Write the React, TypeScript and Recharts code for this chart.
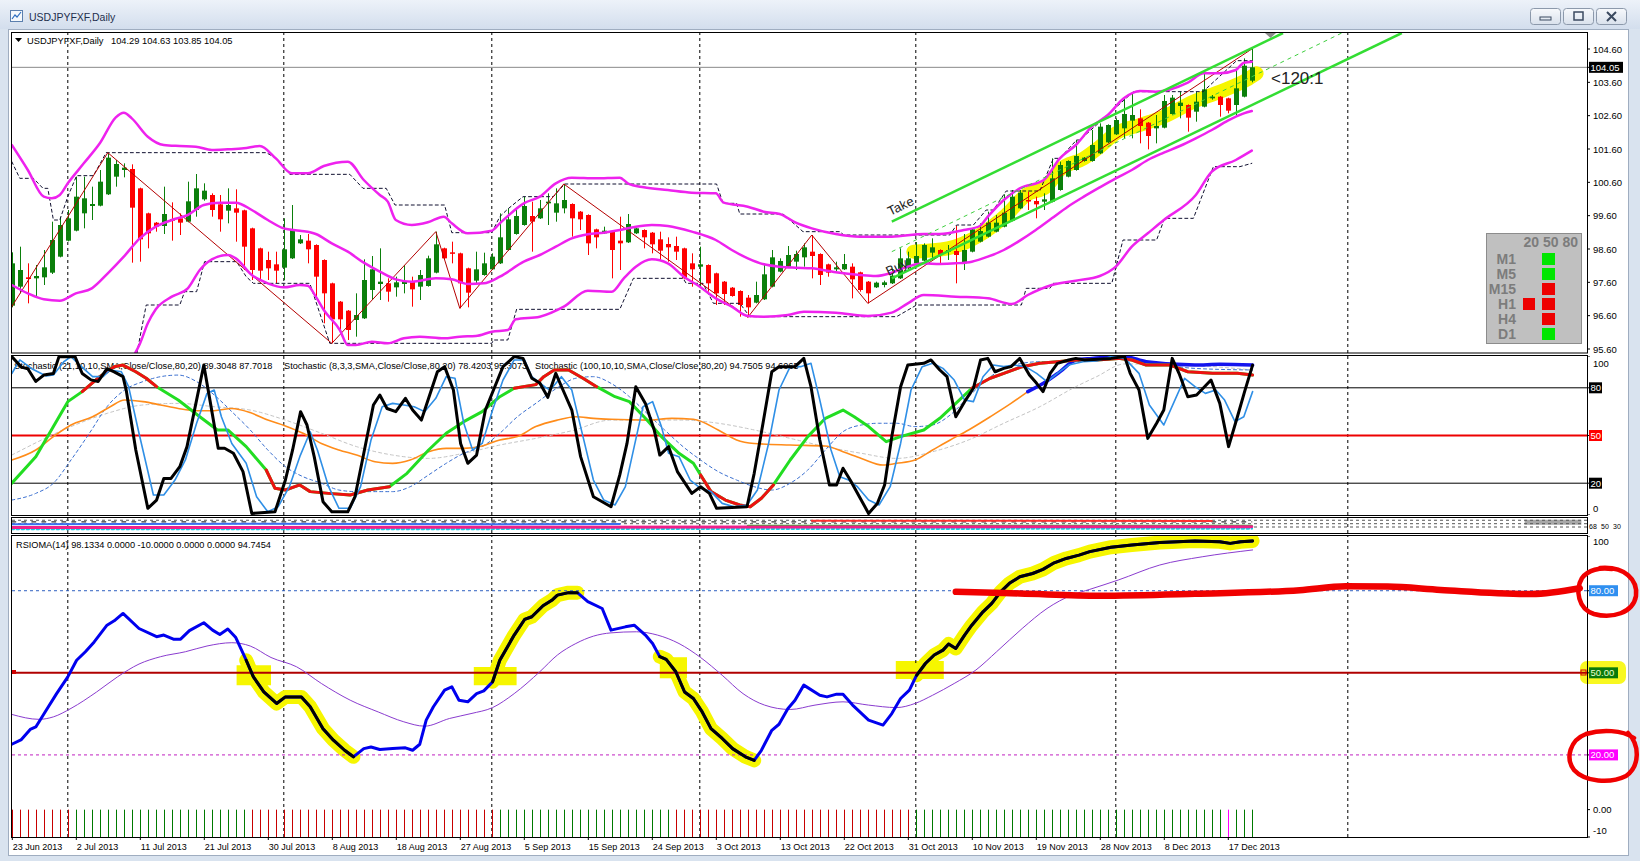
import React from "react";
import {
  ComposedChart,
  Bar,
  Line,
  XAxis,
  YAxis,
  ReferenceLine,
  ReferenceArea,
  ReferenceDot,
} from "recharts";

type Pt = [number, number];

// bar index 0 = 23 Jun 2013, one bar per trading day (8px per bar on screen)
const OPEN = [
  96.9, 97.47, 97.75, 97.72, 97.75, 97.89, 98.37, 98.85, 99.15, 99.67,
  99.89, 99.9, 100.24, 100.77, 100.97, 101.0, 100.42, 99.67, 99.39, 99.29,
  99.5, 99.52, 99.42, 99.77, 100.09, 100.22, 99.94, 99.75, 99.82, 99.76,
  99.22, 98.62, 98.27, 98.14, 98.04, 98.32, 98.77, 98.85, 98.72, 98.27,
  97.57, 97.02, 96.75, 96.47, 96.52, 97.37, 97.55, 97.57, 97.45, 97.55,
  97.62, 97.47, 97.49, 97.89, 98.62, 98.5, 98.47, 98.02, 97.65, 97.82,
  97.99, 98.17, 98.57, 99.05, 99.32, 99.59, 99.52, 99.97, 99.69, 99.82,
  99.95, 99.72, 99.62, 99.19, 99.07, 99.12, 98.85, 98.8, 99.07, 99.17,
  99.09, 98.89, 98.75, 98.69, 98.62, 98.17, 98.07, 98.12, 97.87, 97.62,
  97.44, 97.34, 97.14, 96.99, 97.09, 97.47, 97.92, 98.07, 98.22, 98.35,
  98.52, 98.45, 98.14, 97.99, 97.99, 98.07, 97.9, 97.62, 97.45, 97.52,
  97.57, 97.72, 98.02, 98.17, 98.25, 98.49, 98.57, 98.52, 98.54, 98.17,
  98.52, 98.82, 98.97, 99.12, 99.27, 99.45, 99.82, 100.07, 100.04, 100.02,
  100.02, 100.37, 100.77, 100.97, 101.24, 101.24, 101.47, 101.8, 102.04, 102.22,
  102.45, 102.52, 102.39, 102.22, 102.24, 102.65, 102.89, 102.92, 102.72, 102.87,
  103.12, 103.17, 103.12, 102.92, 103.17, 103.65,
];
const HIGH = [
  98.5, 98.67, 98.17, 98.12, 98.57, 99.42, 99.57, 99.77, 100.77, 100.77,
  100.47, 100.97, 101.47, 101.27, 101.17, 101.14, 100.44, 99.69, 99.41, 100.47,
  100.0, 99.67, 100.62, 100.85, 100.57, 100.27, 100.22, 100.42, 100.39, 99.78,
  99.24, 98.64, 98.52, 98.52, 99.52, 99.92, 99.02, 99.05, 98.74, 98.29,
  97.59, 97.04, 96.77, 97.27, 98.29, 98.39, 98.62, 97.72, 97.77, 98.12,
  97.77, 97.97, 98.4, 99.12, 98.64, 98.82, 98.49, 98.04, 98.52, 98.49,
  98.47, 99.67, 99.82, 99.77, 100.17, 100.02, 100.07, 100.27, 100.42, 100.55,
  99.97, 99.74, 99.64, 99.21, 99.27, 99.14, 99.57, 99.65, 99.24, 99.19,
  99.11, 99.12, 98.95, 98.97, 98.64, 98.47, 98.67, 98.14, 97.89, 97.64,
  97.46, 97.36, 97.22, 97.62, 98.17, 98.57, 98.32, 98.69, 98.55, 98.77,
  99.02, 98.47, 98.16, 98.22, 98.45, 98.17, 97.92, 97.64, 97.62, 97.65,
  98.02, 98.62, 98.52, 98.81, 98.77, 98.92, 98.59, 98.72, 99.29, 99.05,
  99.21, 99.37, 99.72, 99.62, 100.24, 100.37, 100.37, 100.32, 100.17, 100.27,
  101.32, 101.22, 101.26, 101.87, 101.36, 102.17, 102.37, 102.34, 102.52, 103.12,
  103.27, 102.79, 102.41, 102.62, 103.22, 103.22, 103.32, 102.94, 103.32, 103.89,
  103.22, 103.19, 103.14, 103.97, 104.32, 104.63,
];
const LOW = [
  96.85, 97.27, 96.97, 97.17, 97.52, 97.85, 98.35, 98.83, 99.13, 99.22,
  99.47, 99.88, 100.22, 100.47, 100.75, 98.19, 98.22, 98.62, 99.12, 99.05,
  98.85, 99.02, 99.4, 99.57, 100.05, 99.57, 99.12, 99.37, 98.82, 97.97,
  97.67, 97.67, 97.67, 97.57, 97.67, 98.3, 98.75, 98.17, 97.17, 96.37,
  95.77, 96.12, 95.87, 95.97, 96.5, 97.07, 97.07, 97.02, 97.17, 97.27,
  96.87, 97.07, 97.47, 97.87, 98.3, 98.17, 96.82, 96.85, 97.57, 97.8,
  97.97, 98.15, 98.55, 99.03, 99.3, 98.52, 99.5, 99.32, 99.42, 99.67,
  98.97, 99.17, 98.42, 98.62, 99.05, 97.72, 97.97, 98.78, 99.05, 98.62,
  98.47, 98.27, 98.22, 98.27, 97.69, 97.47, 97.47, 97.32, 96.92, 96.92,
  97.17, 96.57, 96.55, 96.97, 97.07, 97.45, 97.9, 98.05, 97.97, 98.07,
  97.72, 97.52, 97.77, 97.92, 97.97, 97.12, 97.32, 96.97, 97.43, 97.45,
  97.55, 97.7, 98.0, 98.15, 98.23, 98.27, 98.17, 98.27, 97.57, 97.97,
  98.5, 98.8, 98.95, 99.1, 99.25, 99.43, 99.8, 99.77, 99.52, 99.77,
  100.0, 100.35, 100.75, 100.95, 101.22, 101.22, 101.45, 101.78, 102.02, 101.92,
  101.92, 101.77, 101.59, 101.77, 102.22, 102.63, 102.52, 102.12, 102.42, 102.85,
  103.08, 102.57, 102.67, 102.62, 103.15, 103.6,
];
const CLOSE = [
  98.17, 97.97, 97.7, 97.79, 98.05, 98.87, 99.32, 99.52, 100.17, 100.12,
  99.95, 100.62, 101.34, 101.15, 101.04, 99.84, 98.89, 99.07, 99.27, 99.65,
  99.45, 99.39, 100.03, 100.42, 100.35, 99.77, 99.49, 99.92, 99.69, 98.67,
  97.97, 97.95, 98.02, 97.95, 98.59, 99.19, 98.89, 98.59, 97.77, 97.27,
  96.49, 96.49, 96.17, 96.62, 97.67, 97.99, 97.62, 97.32, 97.6, 97.62,
  97.39, 97.82, 98.32, 98.74, 98.32, 98.47, 97.57, 97.29, 97.99, 98.17,
  98.37, 98.95, 99.49, 99.59, 99.89, 99.42, 99.82, 100.02, 99.97, 100.07,
  99.52, 99.49, 98.77, 98.95, 99.15, 98.57, 98.77, 99.35, 99.22, 98.95,
  98.74, 98.55, 98.65, 98.52, 97.72, 97.99, 98.14, 97.57, 97.27, 97.25,
  97.19, 96.92, 96.85, 97.22, 97.84, 98.35, 98.24, 98.42, 98.45, 98.65,
  98.39, 97.82, 97.89, 98.05, 98.15, 97.69, 97.37, 97.27, 97.59, 97.6,
  97.8, 98.32, 98.32, 98.39, 98.72, 98.65, 98.42, 98.57, 98.42, 98.57,
  99.19, 99.14, 99.39, 99.39, 99.69, 100.17, 100.29, 100.04, 99.94, 100.09,
  100.72, 101.12, 101.24, 101.39, 101.34, 101.72, 102.27, 102.32, 102.47, 102.65,
  102.62, 102.29, 101.99, 102.29, 103.04, 103.14, 102.99, 102.54, 103.02, 103.39,
  103.17, 102.92, 102.75, 103.42, 104.1, 104.05,
];
const BID = 104.05;

const DATE_TICKS = [0, 8, 16, 24, 32, 40, 48, 56, 64, 72, 80, 88, 96, 104, 112, 120, 128, 136, 144, 152];
const DATE_LABELS = [
  "23 Jun 2013", "2 Jul 2013", "11 Jul 2013", "21 Jul 2013", "30 Jul 2013",
  "8 Aug 2013", "18 Aug 2013", "27 Aug 2013", "5 Sep 2013", "15 Sep 2013",
  "24 Sep 2013", "3 Oct 2013", "13 Oct 2013", "22 Oct 2013", "31 Oct 2013",
  "10 Nov 2013", "19 Nov 2013", "28 Nov 2013", "8 Dec 2013", "17 Dec 2013",
];
const MONTH_LINES = [7, 34, 60, 86, 113, 138, 167];
const PRICE_TICKS = [95.6, 96.6, 97.6, 98.6, 99.6, 100.6, 101.6, 102.6, 103.6, 104.6, BID];

// bollinger bands
const BB_UP: Pt[] = [
  [0, 101.72], [2, 100.97], [4, 100.17], [5, 100.12], [6, 100.22], [7, 100.57], [9, 101.17], [11, 101.77],
  [13, 102.55], [14, 102.69], [15, 102.52], [17, 101.97], [19, 101.72], [21, 101.69], [23, 101.67],
  [25, 101.57], [27, 101.59], [29, 101.62], [31, 101.69], [33, 101.32], [35, 100.87], [37, 100.87],
  [39, 101.09], [42, 101.22], [44, 100.67], [46, 100.22], [47, 100.02], [48, 99.47], [50, 99.32],
  [52, 99.4], [54, 99.57], [55, 99.37], [57, 99.07], [60, 99.15], [61, 99.37], [64, 99.97], [66, 100.17],
  [68, 100.57], [70, 100.74], [73, 100.72], [76, 100.74], [77, 100.57], [79, 100.45], [82, 100.37],
  [85, 100.29], [88, 100.27], [89, 99.99], [92, 99.87], [94, 99.72], [96, 99.65], [98, 99.39],
  [100, 99.22], [103, 99.05], [106, 98.97], [110, 98.97], [114, 99.05], [116, 99.05], [119, 99.17],
  [121, 99.29], [122, 99.57], [124, 100.07], [126, 100.42], [129, 100.67], [131, 101.32], [133, 101.72],
  [135, 102.27], [137, 102.62], [139, 103.12], [141, 103.34], [143, 103.32], [147, 103.59], [149, 103.87],
  [151, 103.87], [153, 103.97], [154, 104.19], [155, 104.22],
];
const BB_MID: Pt[] = [
  [0, 97.52], [2, 97.27], [4, 97.09], [6, 97.05], [8, 97.27], [10, 97.42], [12, 97.87], [14, 98.37],
  [16, 98.92], [18, 99.27], [20, 99.47], [22, 99.62], [24, 99.92], [26, 99.99], [28, 99.99], [30, 99.77],
  [32, 99.47], [34, 99.22], [36, 99.15], [38, 99.05], [40, 98.77], [42, 98.52], [44, 98.19], [46, 97.92],
  [48, 97.69], [50, 97.62], [53, 97.72], [55, 97.69], [57, 97.55], [59, 97.57], [61, 97.77], [64, 98.22],
  [66, 98.42], [68, 98.67], [70, 98.92], [72, 99.04], [74, 99.09], [76, 99.17], [78, 99.27], [80, 99.32],
  [82, 99.29], [85, 99.12], [88, 98.87], [90, 98.57], [92, 98.32], [94, 98.14], [96, 98.07], [98, 98.04],
  [100, 98.02], [103, 97.9], [106, 97.82], [108, 97.79], [110, 97.89], [112, 98.07], [114, 98.17],
  [116, 98.15], [118, 98.17], [120, 98.22], [122, 98.37], [124, 98.57], [126, 98.85], [128, 99.17],
  [130, 99.52], [132, 99.87], [134, 100.17], [136, 100.45], [138, 100.72], [140, 100.97], [142, 101.27],
  [144, 101.49], [146, 101.69], [148, 101.92], [150, 102.17], [152, 102.45], [154, 102.67], [155, 102.74],
];
const BB_LOW: Pt[] = [
  [14, 94.9], [15, 95.3], [16, 95.75], [17, 96.37], [18, 96.79], [20, 97.17], [22, 97.42], [23.5, 97.97],
  [25, 98.29], [27, 98.42], [28, 98.32], [30, 97.82], [32, 97.57], [34, 97.45], [36, 97.52], [37, 97.5],
  [38, 97.17], [39, 96.77], [41, 96.17], [42, 95.72], [43, 95.72], [45, 95.82], [47, 95.77], [49, 95.92],
  [51, 95.97], [54, 95.92], [56, 95.97], [58, 95.99], [60, 96.12], [62, 96.17], [63, 96.49], [66, 96.57],
  [69, 96.87], [72, 97.35], [75, 97.32], [76.5, 97.72], [78, 98.07], [80, 98.29], [82, 98.17], [84, 97.77],
  [86, 97.47], [88, 97.12], [90, 96.87], [92, 96.59], [94, 96.57], [97, 96.62], [99, 96.72], [103, 96.69],
  [107, 96.59], [110, 96.69], [112, 96.97], [114, 97.22], [118, 97.17], [122, 97.12], [125, 96.95],
  [127, 97.22], [130, 97.52], [133, 97.65], [136, 97.79], [138, 98.07], [140, 98.67], [142, 99.07],
  [144, 99.47], [148, 100.22], [150, 100.92], [153, 101.27], [155, 101.55],
];
// dashed price envelopes
const ENV_UP: Pt[] = [
  [0, 101.22], [1, 100.72], [2.7, 100.72], [3.9, 100.42], [4.5, 100.42], [5.2, 99.47], [6, 99.47],
  [7, 100.17], [8.1, 100.8], [10.2, 100.8], [11.8, 101.49], [31.8, 101.49], [33.1, 101.32], [34.75, 100.84],
  [42.25, 100.84], [43.9, 100.42], [46.8, 100.42], [47.9, 99.92], [54.1, 99.92], [55, 99.09], [60, 99.09],
  [61, 99.57], [62, 99.8], [63.9, 100.17], [67.7, 100.17], [69.1, 100.55], [88.1, 100.55], [88.9, 99.97],
  [90.6, 99.97], [91, 99.65], [96.4, 99.65], [98.9, 99.12], [103.5, 99.12], [104, 99.02], [117.25, 99.02],
  [118.1, 99.32], [120.2, 99.32], [121.8, 99.77], [122.7, 99.77], [124.3, 100.34], [128.5, 100.34],
  [130.2, 101.32], [131, 101.32], [133.1, 101.87], [133.5, 101.87], [140.2, 103.32], [148.9, 103.32],
  [153.1, 104.25], [155, 104.25],
];
const ENV_LOW: Pt[] = [
  [15.5, 95.3], [16.8, 96.92], [21, 96.92], [21.6, 97.32], [23.1, 97.32], [24.1, 98.22], [28.1, 98.22],
  [29.3, 97.77], [30.2, 97.57], [37.25, 97.57], [39.75, 95.77], [60, 95.77], [60.2, 95.87], [62, 95.87],
  [63.1, 96.79], [76, 96.79], [77.7, 97.72], [83.9, 97.72], [84.3, 97.57], [86.4, 97.57], [87.7, 96.97],
  [91, 96.97], [92.25, 96.57], [110.6, 96.57], [113.1, 96.92], [126.2, 96.92], [126.8, 97.42],
  [129.75, 97.42], [130.2, 97.57], [137.5, 97.57], [138.9, 98.87], [143.1, 98.87], [144.1, 99.52],
  [147.7, 99.52], [150.2, 101.07], [153.5, 101.07], [155, 101.17],
];
const ZIGZAG: Pt[] = [
  [0, 96.87], [12, 101.49], [40, 95.77], [53, 99.12], [56, 96.82], [69, 100.55], [92, 96.55],
  [100, 99.02], [107, 96.97], [155, 104.6],
];
const HIGHLIGHT: Pt[] = [
  [112.7, 98.52], [117, 98.62], [121, 99.02], [124.3, 99.62], [126.8, 100.22], [129.3, 100.47],
  [131, 100.97], [134, 101.32], [136, 101.67], [138, 102.07], [141, 102.32], [144, 102.57],
  [147.7, 103.02], [151, 103.32], [154.3, 103.67], [155.6, 103.87],
];
const TAKE_LINE: Pt[] = [[110, 99.42], [158.9, 105.08]];
const BUY_LINE: Pt[] = [[110, 97.72], [173.75, 105.08]];
const MID_LINE: Pt[] = [[110, 98.52], [166.25, 105.08]];

// stochastic panel
const STO_FAST: Pt[] = [
  [0, 99.6], [1.2, 93], [2, 92], [3, 84], [4, 88], [5.2, 89], [5.9, 99.6], [7.9, 99.6], [8.8, 89], [9.9, 85],
  [10.8, 84], [11.9, 92], [12.8, 90], [13.9, 87], [14.3, 78.6], [15.5, 40.9], [17, 4.2], [18.1, 9.4],
  [19, 23], [19.9, 23], [21, 30.4], [21.9, 43], [22.8, 65], [24, 94.3], [24.8, 71.3], [25.8, 42], [26.6, 42],
  [27.7, 38.8], [28.9, 27.3], [30, 1], [32.9, 2], [34.2, 22], [35.1, 40.9], [36.1, 65], [36.9, 56.6],
  [37.8, 36.7], [38.9, 8.4], [40, 2], [42, 2], [42.9, 11.5], [44, 38.8], [45.2, 69.2], [46, 75.5], [46.9, 67],
  [48, 65], [49.2, 73.4], [50.1, 66], [51.2, 59.7], [52.1, 73.4], [53.2, 90.1], [54.1, 93.3], [55.2, 78.6],
  [56.1, 45], [57, 32.5], [58.1, 37.7], [59.2, 66], [60.3, 79.7], [61.4, 93.3], [62.8, 99.6], [63.9, 98.5],
  [65, 86], [66, 83], [67, 74], [68, 89.1], [68.9, 78.6], [70, 66], [71.1, 36.7], [72.7, 11.5], [74.9, 5.2],
  [76, 25.2], [76.9, 45], [78, 80.7], [79.2, 70.2], [80.3, 53.5], [81, 37.7], [82.1, 43], [83.2, 27.3],
  [85, 13.6], [86.1, 17.8], [87.2, 13.6], [88.1, 4.2], [91.9, 5.2], [92.8, 26.2], [93.9, 57.7], [95, 90.1],
  [95.9, 93.3], [97.9, 93.3], [99, 98.5], [99.9, 80.7], [101, 47.2], [102.2, 18.9], [103.1, 18.9],
  [103.9, 29.4], [104.8, 22], [105.95, 11.5], [107.1, 1], [108.2, 7.3], [109.1, 18.9], [110, 49.3],
  [111.1, 80.7], [112, 94.3], [114, 95.4], [114.9, 97.5], [116, 91.2], [116.9, 87], [118, 61.8],
  [119.1, 71.3], [120.2, 79.7], [121.1, 97.5], [122, 98.5], [122.9, 90.1], [124, 92.2], [124.9, 93.3],
  [126, 98.5], [127.2, 88], [128.1, 82.8], [128.9, 77.6], [129.8, 89.1], [130.7, 95.4], [132.1, 97.5],
  [133, 98.5], [134.1, 97.5], [137.4, 98.5], [139.1, 99.6], [139.8, 89.1], [140.9, 78.6], [142, 48.2],
  [143.1, 57.7], [144, 66], [145.05, 98.5], [145.9, 89.1], [147, 74.4], [148.1, 75.5], [149.9, 84.9],
  [151, 70.2], [152.1, 43], [153.2, 61.8], [154.1, 77.6], [155.1, 94.3],
];
const STO_SIGNAL: Pt[] = [
  [0, 89], [1, 97.5], [2.5, 92], [4.3, 87.4], [5.2, 88], [6.5, 96.4], [7.4, 99.6], [8.5, 94.3], [10.1, 87],
  [11.4, 87], [12.3, 91.2], [13.7, 90.1], [14.6, 80.7], [15.9, 51.4], [17.7, 12.6], [19, 12.6], [20.4, 22],
  [21.7, 34.6], [23.1, 57.7], [24.4, 76.5], [25.3, 78.6], [26.2, 61.8], [27.5, 45], [29.3, 32.5],
  [30.6, 11.5], [32, 2], [33.3, 5.2], [34.7, 17.8], [36, 36.7], [37.3, 52.4], [38.2, 40.9], [39.6, 17.8],
  [40.9, 4.2], [42.3, 4.2], [43.6, 17.8], [44.9, 47.2], [46.3, 68.1], [47.6, 70.2], [49, 69.2],
  [50.3, 68.1], [51.6, 65], [53, 73.4], [54.3, 87], [55.4, 86], [56.5, 57.7], [57.6, 40.9], [58.8, 45],
  [60.1, 66], [61.4, 84.9], [62.8, 97.5], [64.1, 97.5], [65, 87], [66.8, 80], [67.3, 78.6], [68.7, 87],
  [70, 78.6], [71.4, 49.3], [72.7, 22], [74, 9.4], [75.4, 6.3], [76.7, 17.8], [77.8, 43], [78.9, 68.1],
  [80.1, 71.3], [81.2, 55.6], [82.1, 38.8], [83.4, 36.7], [84.8, 22], [86.1, 16.8], [87.4, 14.7],
  [88.8, 7.3], [90.3, 5.2], [91.9, 6.3], [93.2, 15.7], [94.6, 45], [95.9, 78.6], [97.3, 93.3], [98.6, 93.3],
  [99.9, 95.4], [101, 72.3], [102.4, 40.9], [103.5, 24.1], [104.6, 22], [105.7, 17.8], [107.1, 9.4],
  [108.4, 6.3], [109.8, 17.8], [111.1, 45], [112.4, 78.6], [113.8, 93.3], [115.1, 95.4], [116.4, 92.2],
  [117.8, 84.9], [119.1, 72.3], [120.2, 71.3], [121.4, 87], [122.7, 94.3], [124, 93.3], [125.3, 94.3],
  [126.7, 93.3], [128.1, 89.1], [129.4, 83.9], [130.7, 89.1], [132.1, 94.3], [133.9, 96.4], [135.6, 96.9],
  [137.4, 99.6], [139.1, 98.5], [140.9, 89.1], [142.2, 69.2], [144, 56.6], [145.3, 71.3], [146.6, 86],
  [147.9, 80.7], [149.2, 76.5], [150.5, 78.6], [151.6, 72.3], [152.9, 58.7], [154, 61.8], [155.1, 77.6],
];
const STO_SLOW: Pt[] = [
  [0, 20], [3, 36.7], [5.2, 55.6], [7, 71.3], [8.8, 77.6], [11, 87], [12.8, 93.3], [13.9, 94.3], [15.5, 90.1],
  [16.8, 86], [18.1, 80.7], [20.8, 72.3], [23.5, 61.8], [25.7, 53.5], [27, 53.5], [29.3, 43], [31.8, 28.3],
  [32.9, 16.8], [34.2, 15.7], [36, 18.9], [37.3, 14.7], [39.6, 13.6], [42.3, 12.6], [44.5, 15.7],
  [47.2, 17.8], [49.4, 26.2], [52.1, 40.9], [54.3, 51.4], [56.5, 58.7], [58.8, 65], [61, 74.4],
  [62.8, 79.7], [65.5, 82], [66.5, 87], [67.8, 91.2], [69.6, 91.2], [71.4, 86], [73.1, 80.7], [75.4, 74.4],
  [77.2, 71.3], [79.4, 59.7], [81.2, 49.3], [83.4, 38.8], [85.2, 32.5], [86.1, 25.2], [87.4, 14.7],
  [89.2, 9.4], [91, 6.3], [92.3, 5.2], [93.7, 10.5], [95.2, 18.9], [97.3, 34.6], [99.5, 49.3],
  [101.7, 60.8], [103.9, 66], [105.3, 61.8], [107.1, 55.6], [109.3, 46.1], [111.1, 49.3], [114, 53.5],
  [116, 60.8], [117.8, 69.2], [120, 79.7], [122.3, 86], [124, 89.1], [126.3, 93.3], [128.5, 95.4],
  [130.7, 96.4], [133, 97.5], [135.6, 97.5], [138.3, 98.5], [140, 97.5], [141.8, 94.3], [144.8, 94.3],
  [147, 90.1], [150.1, 89.1], [153.2, 89.1], [155.1, 88],
];
const SLOW_RED: Pt[] = [[8.8, 18.1], [31.8, 47.2], [62.8, 73.1], [86.1, 95.2], [120, 156]];
const STO_LONG: Pt[] = [
  [0, 34.6], [3, 40.9], [5.2, 49.3], [7.4, 56.6], [10.1, 61.8], [12.3, 68.1], [14.1, 72.3], [16.4, 71.3],
  [18.6, 69.2], [20.8, 67], [23.1, 65.6], [25.3, 65.6], [27.5, 67], [29.8, 64.4], [32, 59.7], [34.2, 56],
  [36.4, 51.4], [38.7, 45], [40.9, 40.9], [43.1, 37.7], [45.4, 33.5], [47.6, 32.5], [49.8, 34.6],
  [52.1, 39.8], [54.3, 41.9], [56.5, 41.9], [58.8, 43.4], [61, 47.2], [63.2, 49.3], [65.5, 55.6],
  [68.2, 59.7], [70.5, 61.8], [72.7, 60.8], [74.9, 60.2], [79.4, 59.7], [82.5, 60.8], [85.2, 60.2],
  [88.3, 53.5], [90.6, 47.2], [92.8, 45], [97.3, 44], [101.7, 43.4], [103.9, 39.8], [106.2, 35.6],
  [108.9, 31.4], [110.6, 32.5], [112.9, 34.6], [115.1, 40.9], [117.3, 47.2], [119.6, 53.5], [122.3, 61.8],
  [124.9, 70.2], [127, 77.6],
];
const STO_LONG_HI: Pt[] = [
  [127, 77.6], [129, 83], [131, 90], [133, 97.5], [135, 98.5], [139.1, 99.6], [141.8, 96.4], [147.9, 94.3],
  [151, 94.8], [155.1, 94.3],
];
const STO_DOT_BLUE: Pt[] = [
  [0, 9.4], [3, 13.6], [5.2, 20], [7.4, 34.6], [9.7, 51.4], [11.9, 68.1], [14.1, 78.6], [16.4, 83.9],
  [18.6, 87], [20.8, 88], [23.1, 83.9], [25.3, 75.5], [27.5, 65], [29.8, 53.5], [32, 40.9], [34.2, 30.4],
  [36.4, 24.1], [38.7, 20], [40.9, 15.7], [43.1, 14.7], [47.6, 14.7], [49.8, 17.8], [52.1, 25.2],
  [54.3, 32.5], [56.5, 38.8], [58.8, 43], [61, 51.4], [63.2, 61.8], [65.5, 70.2], [68.2, 80], [70.5, 86],
  [72.7, 87], [74.9, 82.8], [77.2, 74.4], [79.4, 63.9], [81.6, 53.5], [83.9, 43], [86.1, 34.6],
  [88.3, 27.3], [90.6, 22], [92.8, 17.8], [95, 15.7], [97.3, 20], [99.5, 28.3], [101.7, 40.9],
  [103.9, 52.4], [106.2, 56.6], [108.4, 57.7], [110.6, 57.7], [112.9, 55.6], [115.1, 56.6], [117.3, 62.9],
  [119.6, 74.4], [121.8, 84.9], [124, 92.2], [126.3, 95.4], [128.5, 96.4], [133, 96.4], [137.4, 98.5],
  [147.9, 92.2], [155.1, 91.2],
];
const STO_DOT_GRAY: Pt[] = [
  [0, 37.7], [7.4, 55.6], [11.9, 63.9], [16.4, 69.2], [20.8, 70.2], [25.3, 68.1], [29.8, 66], [34.2, 59.7],
  [38.7, 51.4], [43.1, 43], [47.6, 37.7], [52.1, 35.6], [56.5, 38.8], [61, 44], [65.5, 48.2], [70, 53],
  [74.9, 59.7], [83.9, 59.7], [88.3, 57.7], [92.8, 53.5], [97.3, 48.2], [101.7, 43], [106.2, 38.8],
  [110.6, 35.6], [115.1, 39.8], [119.6, 47.2], [124, 57.7], [128.5, 68.1], [133, 80.7], [135.6, 87],
  [139.1, 95], [147.9, 94], [155.1, 91.2],
];

// small strip panel
const STRIP_PINK: Pt[] = [[0, 36], [50, 38], [100, 40], [155, 42]];
const STRIP_CYAN: Pt[] = [[0, 26], [80, 28], [155, 30]];
const STRIP_BLUE: Pt[] = [[0, 58], [30, 62], [60, 58], [76, 60]];
const STRIP_GREEN: Pt[] = [[92, 48], [155, 48]];
const STRIP_RED: Pt[] = [[100, 82], [150, 80]];
const STRIP_BLACK: Pt[] = [[0, 74], [155, 74]];
const STRIP_LEVELS = ["68", "50", "30"];

// RSIOMA panel
const RSI: Pt[] = [
  [0, 23.9], [1.2, 25.6], [2.3, 29.3], [3, 30.2], [4.3, 36.3], [5.6, 42.4], [7, 48.5], [8.1, 54.6],
  [9.2, 57.7], [10.3, 61.3], [11.9, 67.4], [12.8, 69], [13.9, 71.7], [15.9, 66.2], [18.1, 63.2], [19, 63.8],
  [20.2, 62.3], [21.1, 62.3], [22.2, 65.4], [24, 68.3], [25.1, 65.6], [26, 64], [27, 66], [28, 62.9],
  [29.3, 54.6], [30.2, 48.5], [31.5, 43], [33.1, 38.8], [34.2, 41.2], [36.2, 41.2], [37.3, 37.6],
  [38.9, 29.6], [40.2, 25.4], [41.6, 21.7], [42.7, 19.3], [44, 22.3], [44.9, 22.9], [46, 22], [47.6, 22.3],
  [49.2, 22.6], [50.1, 21.7], [51, 23.9], [51.8, 32.7], [52.7, 37.6], [54.1, 43.7], [55, 44.9], [55.9, 40],
  [57, 39.4], [58.1, 42.4], [59, 43.4], [60.1, 46.7], [61, 54.6], [62.8, 63.8], [64.1, 69.5], [65, 70.5],
  [66.4, 74.5], [67.5, 76.5], [68.2, 78.4], [69.6, 79.3], [70.7, 79.3], [72, 76], [73.8, 73.5],
  [74.9, 65.6], [76.7, 66.8], [77.8, 67.4], [79.2, 63.8], [80.1, 60.7], [81, 55.9], [81.8, 54.9],
  [83, 50.4], [84.1, 43], [85.2, 40.6], [86.3, 35.7], [87.4, 29.6], [88.8, 26], [90.1, 22.3], [91.7, 19.3],
  [92.8, 18], [93.7, 21.7], [95, 29], [95.9, 31.2], [97, 36.9], [97.9, 40], [99, 45.5], [101, 41.8],
  [101.9, 41.2], [103.1, 42.2], [103.9, 42.2], [105.1, 38.2], [107.1, 32.7], [108.9, 30.9], [110, 35.1],
  [111.1, 40.6], [112.2, 43.7], [113.1, 49.1], [114.2, 53.4], [115.3, 56.5], [116.4, 58.3], [117.1, 60.5],
  [118, 58.9], [119.1, 63.8], [120, 67.4], [121.4, 72.3], [122.5, 75.4], [123.6, 79.6], [124.7, 82.7],
  [126, 85.1], [127.6, 86.3], [128.9, 87.8], [130.3, 90.2], [131.8, 91.8], [133.4, 93], [134.75, 94.3],
  [137.4, 95.9], [140, 96.7], [143.5, 97.6], [147.9, 98.2], [151, 97.9], [152.3, 97.3], [153.6, 97.9],
  [155.1, 98.2],
];
const RSI_DARK: Pt[] = [[29.3, 42.7], [60.1, 70.7], [81, 92.8], [113.1, 155.1]];
const RSI_MA: Pt[] = [
  [0, 34.8], [3.4, 33], [5.2, 33.9], [7.4, 37], [10.6, 43], [13.2, 48.5], [15.9, 53.2], [18.6, 55.9],
  [21.7, 57.7], [24.4, 59.8], [27.5, 61], [29.8, 59.8], [32.4, 55.6], [35.6, 52.2], [38.7, 46.1],
  [42.3, 40], [45.8, 35.7], [49, 32.1], [51.6, 30.5], [54.7, 33.3], [57.4, 35.1], [60.1, 37.3],
  [62.8, 42.4], [66, 50.4], [68.2, 56.5], [70.5, 60.7], [72.7, 63.4], [74.9, 64.6], [78.1, 65],
  [80.7, 63.8], [83.4, 60.7], [86.1, 55.6], [88.8, 49.1], [91.4, 42.4], [94.1, 38.2], [97.3, 36.6],
  [100.4, 38.2], [103.9, 39.4], [107.1, 38.2], [110.6, 37.3], [112.9, 38.8], [115.1, 41.8], [117.8, 46.1],
  [120.5, 51], [123.1, 57.7], [126.3, 66.2], [129.4, 73.5], [132.5, 78.4], [134.75, 80.5], [138.3, 83.9],
  [143.5, 89.4], [148.8, 92.4], [155.1, 94.9],
];
const HAND_LINE: Pt[] = [
  [118, 79.6], [126, 79], [136, 78.2], [147.9, 78.9], [161, 80.2], [166.75, 81.6], [172, 81.5],
  [178.6, 80.3], [190, 78.8], [196, 80.9],
];
const CROSS_BOXES = [
  [28.1, 32.4, 45.5, 52.8], [57.75, 63.1, 45.5, 52.1], [81, 84.4, 48, 55.7], [110.5, 116.5, 47.7, 54.3],
];
const HIST_RUNS: [number, number, string][] = [
  [0, 7, "#c80000"], [8, 29, "#007a00"], [30, 60, "#c80000"], [61, 82, "#007a00"],
  [83, 112, "#c80000"], [113, 151, "#007a00"], [152, 152, "#ff00ff"], [153, 155, "#007a00"],
];

// timeframe matrix
const TF_NAMES = ["M1", "M5", "M15", "H1", "H4", "D1"];
const TF_20 = ["", "", "", "r", "", ""];
const TF_50 = ["g", "g", "r", "r", "r", "g"];

const XD: [number, number] = [-0.1, 196.9];
const CW = 1629;
const AXW = 53;
const M = { top: 0, right: 0, bottom: 0, left: 0 };
const FONT = "Liberation Sans, Arial, sans-serif";
const GREEN = "#0b7f0b";
const RED = "#ff0000";
const MAG = "#ee22ee";

const candleRows = OPEN.map((o, i) => ({ i, o, h: HIGH[i], l: LOW[i], c: CLOSE[i], range: [LOW[i], HIGH[i]] }));
const histRows = OPEN.map((_, i) => {
  const run = HIST_RUNS.find((r) => i >= r[0] && i <= r[1]);
  return { i, hv: [-10, 0], col: run ? run[2] : "#007a00" };
});

const pts = (a: Pt[]) => a.map(([i, v]) => ({ i, v }));
const within = (a: Pt[], s: number, e: number) => a.filter(([i]) => i >= s && i <= e);

const ln = (key: string, a: Pt[], stroke: string, w: number, type: string = "linear", dash?: string) => (
  <Line
    key={key}
    data={pts(a)}
    dataKey="v"
    type={type as any}
    stroke={stroke}
    strokeWidth={w}
    strokeDasharray={dash}
    strokeLinejoin="round"
    strokeLinecap="round"
    dot={false}
    activeDot={false}
    isAnimationActive={false}
    legendType="none"
  />
);

const xHidden = () => <XAxis type="number" dataKey="i" domain={XD} allowDataOverflow hide />;
const grid = () =>
  MONTH_LINES.map((m) => (
    <ReferenceLine key={"g" + m} x={m} stroke="#000" strokeDasharray="3 3" ifOverflow="hidden" />
  ));
const blankY = (domain: [number, number]) => (
  <YAxis orientation="right" width={AXW} domain={domain} allowDataOverflow tick={false} axisLine={false} tickLine={false} />
);

function Candle(props: any) {
  const { x, y, width, height, payload } = props;
  if (!payload || height == null || y == null) return null;
  const { o, h, l, c } = payload;
  const top = Math.min(y, y + height);
  const hh = Math.abs(height);
  const k = hh / Math.max(h - l, 1e-6);
  const cx = Math.round(x + width / 2);
  const yo = top + (h - o) * k;
  const yc = top + (h - c) * k;
  const col = c >= o ? GREEN : RED;
  return (
    <g>
      <rect x={cx} y={top} width={1} height={Math.max(hh, 1)} fill={col} />
      <rect x={cx - 2} y={Math.min(yo, yc)} width={5} height={Math.max(1.5, Math.abs(yc - yo))} fill={col} />
    </g>
  );
}

function HistBar(props: any) {
  const { x, y, width, height, payload } = props;
  if (!payload || y == null) return null;
  const top = Math.min(y, y + height);
  return <rect x={Math.round(x + width / 2)} y={top} width={1} height={Math.abs(height)} fill={payload.col} />;
}

const boxTick = (x: number, y: number, label: string, bg: string, fg: string, w: number) => (
  <g>
    <line x1={x} x2={x + 3} y1={y} y2={y} stroke="#000" />
    <rect x={x + 2} y={y - 5.5} width={w} height={11} fill={bg} />
    <text x={x + 3.5} y={y + 3.5} fontSize={9.5} fontFamily={FONT} fill={fg}>{label}</text>
  </g>
);
const plainTick = (x: number, y: number, label: string, dy = 0) => (
  <g>
    <line x1={x} x2={x + 3} y1={y} y2={y} stroke="#000" />
    <text x={x + 6} y={y + 3.5 + dy} fontSize={9.5} fontFamily={FONT} fill="#000">{label}</text>
  </g>
);

function PriceTick(props: any) {
  const { x, y, payload } = props;
  const v = payload.value;
  if (v === BID) return boxTick(x, y, v.toFixed(2), "#000", "#fff", 34);
  return plainTick(x, y, v.toFixed(2));
}
function StochTick(props: any) {
  const { x, y, payload } = props;
  const v = payload.value;
  if (v === 100) return plainTick(x, y, "100", 7);
  if (v === 0) return plainTick(x, y, "0", -7);
  if (v === 50) return boxTick(x, y, "50", "#ff0000", "#fff", 13);
  return boxTick(x, y, String(v), "#000", "#fff", 13);
}
function RsiTick(props: any) {
  const { x, y, payload } = props;
  const v = payload.value;
  if (v === 100) return plainTick(x, y, "100", 5);
  if (v === -10) return plainTick(x, y, "-10", -7);
  if (v === 80) return boxTick(x, y, "80.00", "#2f8ff0", "#fff", 29);
  if (v === 50) return boxTick(x, y, "50.00", "#0a7a0a", "#eaffd0", 29);
  if (v === 20) return boxTick(x, y, "20.00", "#ff00ff", "#fff", 29);
  return plainTick(x, y, "0.00");
}
function DateTick(props: any) {
  const { x, y, payload } = props;
  const k = DATE_TICKS.indexOf(payload.value);
  if (k < 0) return null;
  return (
    <g>
      <line x1={x + 0.5} x2={x + 0.5} y1={y} y2={y + 3} stroke="#000" />
      <text x={x + 1} y={y + 13} fontSize={9} fontFamily={FONT} fill="#000">{DATE_LABELS[k]}</text>
    </g>
  );
}

const textDot = (key: string, x: number, y: number, label: string, size: number, rot: number) => (
  <ReferenceDot
    key={key}
    x={x}
    y={y}
    r={0}
    ifOverflow="visible"
    shape={(p: any) => (
      <text
        x={p.cx}
        y={p.cy}
        fontSize={size}
        fontFamily={FONT}
        fill="#222"
        textAnchor={rot ? "middle" : "start"}
        dominantBaseline={rot ? "central" : "auto"}
        transform={rot ? `rotate(${rot} ${p.cx} ${p.cy})` : undefined}
      >
        {label}
      </text>
    )}
  />
);

const seg = (a: Pt[]) => [{ x: a[0][0], y: a[0][1] }, { x: a[1][0], y: a[1][1] }];

export default function App() {
  const PD: [number, number] = [95.48, 105.11];
  return (
    <div style={{ position: "absolute", left: 0, top: 0, width: 1640, height: 861, overflow: "hidden", fontFamily: FONT }}>
      {/* window chrome and titles behind the charts */}
      <svg width={1640} height={861} style={{ position: "absolute", left: 0, top: 0 }}>
        <defs>
          <linearGradient id="tb" x1="0" y1="0" x2="0" y2="1">
            <stop offset="0" stopColor="#edf2f9" />
            <stop offset="1" stopColor="#d3deed" />
          </linearGradient>
          <linearGradient id="btn" x1="0" y1="0" x2="0" y2="1">
            <stop offset="0" stopColor="#f7f9fc" />
            <stop offset="1" stopColor="#d9e1ec" />
          </linearGradient>
        </defs>
        <rect width={1640} height={861} fill="#d9e3ef" />
        <rect x={0} y={0} width={1640} height={29} fill="url(#tb)" />
        <rect x={8.5} y={29.5} width={1620} height={826} fill="#fff" stroke="#9fadc0" />
        <rect x={10.5} y={10.5} width={12} height={11} fill="#f4f8fc" stroke="#5b7fae" />
        <polyline points="12,19 15,15 17,17 21,12" fill="none" stroke="#2f6fc0" strokeWidth={1.2} />
        <text x={29} y={20.5} fontSize={10.5} fontFamily={FONT} fill="#1e2f4d">USDJPYFXF,Daily</text>
        {[1530, 1563, 1596].map((bx, k) => (
          <g key={bx}>
            <rect x={bx + 0.5} y={8.5} width={30} height={16} rx={3} fill="url(#btn)" stroke="#8c99ab" />
            {k === 0 && <rect x={bx + 10} y={17} width={11} height={3} fill="none" stroke="#3b4a60" />}
            {k === 1 && <rect x={bx + 11} y={12} width={9} height={8} fill="none" stroke="#3b4a60" strokeWidth={1.5} />}
            {k === 2 && <path d={`M${bx + 11} ${12}L${bx + 20} ${21}M${bx + 20} ${12}L${bx + 11} ${21}`} stroke="#3b4a60" strokeWidth={2} />}
          </g>
        ))}
        <polygon points="15,38 22,38 18.5,42" fill="#000" />
        <text x={27} y={44} fontSize={9.3} fontFamily={FONT} fill="#000">USDJPYFXF,Daily</text>
        <text x={111} y={44} fontSize={9.3} fontFamily={FONT} fill="#000">104.29 104.63 103.85 104.05</text>
        <text x={14} y={368.5} fontSize={9.2} fontFamily={FONT} fill="#000">Stochastic (21,10,10,SMA,Close/Close,80,20) 89.3048 87.7018</text>
        <text x={284} y={368.5} fontSize={9.2} fontFamily={FONT} fill="#000">Stochastic (8,3,3,SMA,Close/Close,80,20) 78.4203 95.3073</text>
        <text x={535} y={368.5} fontSize={9.2} fontFamily={FONT} fill="#000">Stochastic (100,10,10,SMA,Close/Close,80,20) 94.7505 94.6065</text>
        <text x={16} y={547.5} fontSize={9.2} fontFamily={FONT} fill="#000">RSIOMA(14) 98.1334 0.0000 -10.0000 0.0000 0.0000 94.7454</text>
        <rect x={1580} y={661} width={46} height={23} rx={7} fill="#f8f820" />
      </svg>

      {/* price panel: background layer */}
      <div style={{ position: "absolute", left: 11, top: 32 }}>
        <ComposedChart width={CW} height={321} margin={M}>
          {xHidden()}
          {blankY(PD)}
          {grid()}
          <ReferenceLine y={BID} stroke="#8a8a8a" ifOverflow="hidden" />
          {ln("hl", HIGHLIGHT, "#f6f600", 14, "monotone")}
        </ComposedChart>
      </div>
      {/* price panel: candles and overlays */}
      <div style={{ position: "absolute", left: 11, top: 32 }}>
        <ComposedChart width={CW} height={321} data={candleRows} margin={M}>
          {xHidden()}
          <YAxis
            orientation="right"
            width={AXW}
            domain={PD}
            allowDataOverflow
            ticks={PRICE_TICKS}
            interval={0}
            tick={<PriceTick />}
            tickSize={0}
            tickMargin={0}
            axisLine={false}
            tickLine={false}
          />
          {ln("envU", ENV_UP, "#101030", 1, "linear", "3 3")}
          {ln("envL", ENV_LOW, "#101030", 1, "linear", "3 3")}
          <Bar dataKey="range" barSize={5} shape={(p: any) => <Candle {...p} />} isAnimationActive={false} legendType="none" />
          {ln("zz", ZIGZAG, "#b40000", 1)}
          {ln("bbU", BB_UP, MAG, 2.5, "monotone")}
          {ln("bbM", BB_MID, MAG, 2.5, "monotone")}
          {ln("bbL", BB_LOW, MAG, 2.5, "monotone")}
          <ReferenceLine segment={seg(MID_LINE)} stroke="#3fcf3f" strokeDasharray="4 4" ifOverflow="hidden" />
          <ReferenceLine segment={seg(TAKE_LINE)} stroke="#33dd33" strokeWidth={2.5} ifOverflow="hidden" />
          <ReferenceLine segment={seg(BUY_LINE)} stroke="#33dd33" strokeWidth={2.5} ifOverflow="hidden" />
          {textDot("take", 111.1, 99.89, "Take", 13, -26)}
          {textDot("buy", 110.6, 98.06, "Buy", 13, -26)}
          {textDot("ratio", 157.4, 103.55, "<120:1", 17, 0)}
        </ComposedChart>
      </div>

      {/* stochastic panel */}
      <div style={{ position: "absolute", left: 11, top: 356 }}>
        <ComposedChart width={CW} height={159} margin={M}>
          {xHidden()}
          <YAxis
            orientation="right"
            width={AXW}
            domain={[0, 100]}
            allowDataOverflow
            ticks={[0, 20, 50, 80, 100]}
            interval={0}
            tick={<StochTick />}
            tickSize={0}
            tickMargin={0}
            axisLine={false}
            tickLine={false}
          />
          {grid()}
          <ReferenceLine y={80} stroke="#000" />
          <ReferenceLine y={20} stroke="#000" />
          <ReferenceLine y={50} stroke="#ee0000" strokeWidth={2} />
          {ln("dg", STO_DOT_GRAY, "#c4c4c4", 1, "monotone", "3 3")}
          {ln("db", STO_DOT_BLUE, "#3a6fd0", 1, "monotone", "3 3")}
          {ln("lo", STO_LONG, "#ff8c1a", 1.6, "monotone")}
          {ln("lh", STO_LONG_HI, "#1414ee", 3.5, "monotone")}
          {ln("sl", STO_SLOW, "#22dd22", 3)}
          {SLOW_RED.map(([s, e], k) => ln("sr" + k, within(STO_SLOW, s, e), "#ee1111", 3))}
          {ln("sg", STO_SIGNAL, "#2f8fe6", 1.6)}
          {ln("fa", STO_FAST, "#000", 3)}
        </ComposedChart>
      </div>

      {/* thin strip panel */}
      <div style={{ position: "absolute", left: 11, top: 518 }}>
        <ComposedChart width={CW} height={15} margin={M}>
          {xHidden()}
          {blankY([0, 100])}
          {grid()}
          <ReferenceLine y={85} stroke="#555" strokeDasharray="3 3" />
          <ReferenceLine y={62} stroke="#555" strokeDasharray="3 3" />
          <ReferenceLine y={40} stroke="#555" strokeDasharray="3 3" />
          <ReferenceArea x1={189.1} x2={196.2} y1={55} y2={88} fill="#a8a8a8" fillOpacity={1} ifOverflow="hidden" />
          {ln("sb", STRIP_BLACK, "#000", 1, "linear", "4 6")}
          {ln("sbl", STRIP_BLUE, "#3a6ff0", 2)}
          {ln("sr", STRIP_RED, "#ff3030", 2)}
          {ln("sgr", STRIP_GREEN, "#22c022", 2)}
          {ln("sc", STRIP_CYAN, "#10d0e8", 2.5, "linear", "2 3")}
          {ln("sp", STRIP_PINK, "#f0208a", 3)}
        </ComposedChart>
      </div>

      {/* RSIOMA panel: background layer */}
      <div style={{ position: "absolute", left: 11, top: 536 }}>
        <ComposedChart width={CW} height={321} margin={M}>
          <XAxis type="number" dataKey="i" domain={XD} allowDataOverflow height={20} tick={false} axisLine={false} tickLine={false} />
          {blankY([-10, 100])}
          {grid()}
          {CROSS_BOXES.map(([x1, x2, y1, y2], k) => (
            <ReferenceArea key={"cb" + k} x1={x1} x2={x2} y1={y1} y2={y2} fill="#f6f600" fillOpacity={1} stroke="none" />
          ))}
          {RSI_DARK.map(([s, e], k) => ln("ry" + k, within(RSI, s, e), "#f6f600", 14))}
        </ComposedChart>
      </div>
      {/* RSIOMA panel: lines */}
      <div style={{ position: "absolute", left: 11, top: 536 }}>
        <ComposedChart width={CW} height={321} data={histRows} margin={M}>
          <XAxis
            type="number"
            dataKey="i"
            domain={XD}
            allowDataOverflow
            height={20}
            ticks={DATE_TICKS}
            interval={0}
            tick={<DateTick />}
            tickSize={0}
            tickMargin={0}
            axisLine={false}
            tickLine={false}
          />
          <YAxis
            orientation="right"
            width={AXW}
            domain={[-10, 100]}
            allowDataOverflow
            ticks={[-10, 0, 20, 50, 80, 100]}
            interval={0}
            tick={<RsiTick />}
            tickSize={0}
            tickMargin={0}
            axisLine={false}
            tickLine={false}
          />
          <ReferenceLine y={80} stroke="#3060c0" strokeDasharray="3 3" />
          <ReferenceLine y={50} stroke="#b00000" strokeWidth={2} />
          <ReferenceLine y={20} stroke="#c020c0" strokeDasharray="3 3" />
          <Bar dataKey="hv" barSize={1} shape={(p: any) => <HistBar {...p} />} isAnimationActive={false} legendType="none" />
          {ln("ma", RSI_MA, "#8a3ccf", 1, "monotone")}
          {ln("rsi", RSI, "#0000ee", 3)}
          {RSI_DARK.map(([s, e], k) => ln("rk" + k, within(RSI, s, e), "#000", 3))}
          {ln("hand", HAND_LINE, "#f00000", 6.5, "monotone")}
        </ComposedChart>
      </div>

      {/* frames and annotations on top */}
      <svg width={1640} height={861} style={{ position: "absolute", left: 0, top: 0, pointerEvents: "none" }}>
        <rect x={11.5} y={32.5} width={1576} height={320.5} fill="none" stroke="#000" />
        <rect x={11.5} y={355.5} width={1576} height={160} fill="none" stroke="#000" />
        <rect x={11.5} y={517.5} width={1576} height={16} fill="none" stroke="#000" />
        <rect x={11.5} y={535.5} width={1576} height={302} fill="none" stroke="#000" />
        <polygon points="1265,33 1276,33 1270.5,38" fill="#8a8a8a" />
        <rect x={12} y={670} width={4} height={4} fill="#d00000" />
        <rect x={1581} y={670} width={5} height={5} fill="none" stroke="#d00000" />
        {STRIP_LEVELS.map((t, k) => (
          <text key={t} x={1589 + k * 12} y={529} fontSize={7} fontFamily={FONT}>{t}</text>
        ))}
        <rect x={1486.5} y={233.5} width={95} height={110} fill="#c0c0c0" stroke="#8c8c8c" />
        <text x={1578} y={247} fontSize={14} fontWeight="bold" fontFamily={FONT} fill="#7c7c7c" textAnchor="end">20 50 80</text>
        {TF_NAMES.map((n, k) => {
          const cy = 259 + k * 15;
          return (
            <g key={n}>
              <text x={1516} y={cy + 5} fontSize={14} fontWeight="bold" fontFamily={FONT} fill="#7c7c7c" textAnchor="end">{n}</text>
              {TF_20[k] && <rect x={1523} y={cy - 6} width={12} height={12} fill={TF_20[k] === "r" ? "#ee0000" : "#00e600"} />}
              {TF_50[k] && <rect x={1542} y={cy - 6} width={13} height={12} fill={TF_50[k] === "r" ? "#ee0000" : "#00e600"} />}
            </g>
          );
        })}
        <path d="M1600 568 C1625 566 1638 580 1636 596 C1633 613 1612 619 1594 614 C1578 609 1575 590 1582 578 C1588 570 1600 567 1612 569" fill="none" stroke="#f00000" strokeWidth={4.5} strokeLinecap="round" />
        <path d="M1628 733 C1640 745 1640 766 1626 776 C1610 784 1585 782 1574 770 C1565 758 1570 740 1586 734 C1602 729 1622 730 1634 738" fill="none" stroke="#f00000" strokeWidth={4.5} strokeLinecap="round" />
      </svg>
    </div>
  );
}
